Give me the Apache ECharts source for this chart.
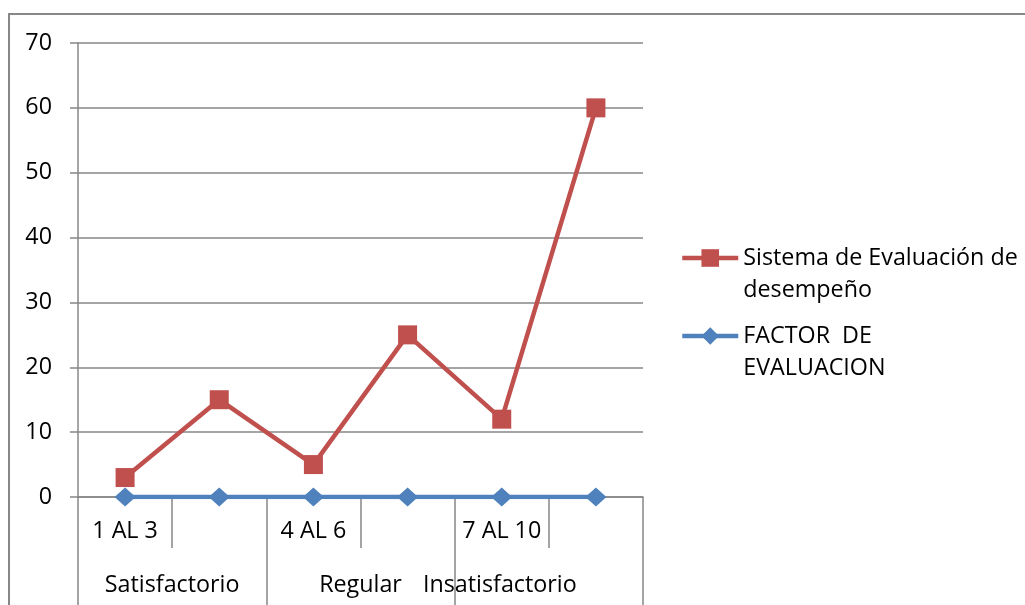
<!DOCTYPE html>
<html>
<head>
<meta charset="utf-8">
<script src="https://cdn.jsdelivr.net/npm/echarts@6/dist/echarts.min.js"></script>
<style>
  html, body { margin: 0; padding: 0; background: #fff; }
  #chart { width: 1025px; height: 605px; }
</style>
</head>
<body>
<div id="chart"></div>
<script>
// Rating bands (inner category level) and their group labels (outer level)
const categories = ['1 AL 3', '', '4 AL 6', '', '7 AL 10', ''];
const groups = ['Satisfactorio', 'Regular', 'Insatisfactorio'];
const yTicks = [0, 10, 20, 30, 40, 50, 60, 70];

const seriesSistema = [3, 15, 5, 25, 12, 60];
const seriesFactor = [0, 0, 0, 0, 0, 0];

const nameSistema = 'Sistema de Evaluación de desempeño';
const nameFactor = 'FACTOR  DE EVALUACION';

const FONT = 'Open Sans';
const FS = 23.3;
const GRAY = '#878787';
const RED = '#C0504D';
const BLUE = '#4F81BD';

const chart = echarts.init(document.getElementById('chart'), null, { renderer: 'canvas' });

// A blank leading line keeps the first text line level with the legend icon
const legendText = { fontFamily: FONT, fontSize: FS, color: '#000', lineHeight: 32 };

function legendFor(name, lines, top) {
  return {
    data: [name],
    orient: 'vertical',
    left: 680,
    top: top,
    padding: 0,
    itemWidth: 56,
    itemHeight: 22,
    lineStyle: { width: 4.5 },
    formatter: () => '\n' + lines.join('\n'),
    textStyle: legendText
  };
}

chart.setOption({
  animation: false,
  backgroundColor: '#fff',
  grid: { left: 78, right: 382, top: 43, bottom: 108, containLabel: false },
  graphic: [{
    type: 'rect',
    shape: { x: 9, y: 14, width: 1100, height: 700 },
    style: { fill: 'none', stroke: GRAY, lineWidth: 2 },
    silent: true,
    z: -10
  }],
  legend: [
    legendFor(nameSistema, ['Sistema de Evaluación de', 'desempeño'], 210),
    legendFor(nameFactor, ['FACTOR  DE', 'EVALUACION'], 288)
  ],
  xAxis: [{
    type: 'category',
    data: categories,
    boundaryGap: true,
    axisLine: { show: true, lineStyle: { color: GRAY, width: 1.5 } },
    axisTick: { show: true, interval: 0, length: 51, lineStyle: { color: GRAY, width: 1.5 } },
    axisLabel: { interval: 0, margin: 23, fontFamily: FONT, fontSize: FS, color: '#000' },
    splitLine: { show: false }
  }, {
    type: 'category',
    position: 'bottom',
    data: groups.map((g, i) => i === 2 ? { value: g, textStyle: { padding: [0, 98, 0, 0] } } : g),
    boundaryGap: true,
    axisLine: { show: false },
    axisTick: { show: true, interval: 0, length: 108, lineStyle: { color: GRAY, width: 1.5 } },
    axisLabel: { interval: 0, margin: 77, fontFamily: FONT, fontSize: FS, color: '#000' },
    splitLine: { show: false }
  }],
  yAxis: {
    type: 'value',
    min: yTicks[0],
    max: yTicks[yTicks.length - 1],
    interval: 10,
    axisLine: { show: true, lineStyle: { color: GRAY, width: 1.5 } },
    axisTick: { show: true, length: 8, lineStyle: { color: GRAY, width: 1.5 } },
    axisLabel: { margin: 26, fontFamily: FONT, fontSize: FS, color: '#000' },
    splitLine: { show: true, lineStyle: { color: GRAY, width: 1.5 } }
  },
  series: [{
    name: nameSistema,
    type: 'line',
    data: seriesSistema,
    symbol: 'rect',
    symbolSize: 19,
    lineStyle: { color: RED, width: 4.5 },
    itemStyle: { color: RED },
    z: 2
  }, {
    name: nameFactor,
    type: 'line',
    data: seriesFactor,
    symbol: 'diamond',
    symbolSize: [21, 19],
    lineStyle: { color: BLUE, width: 4.5 },
    itemStyle: { color: BLUE },
    z: 3
  }]
});
</script>
</body>
</html>
